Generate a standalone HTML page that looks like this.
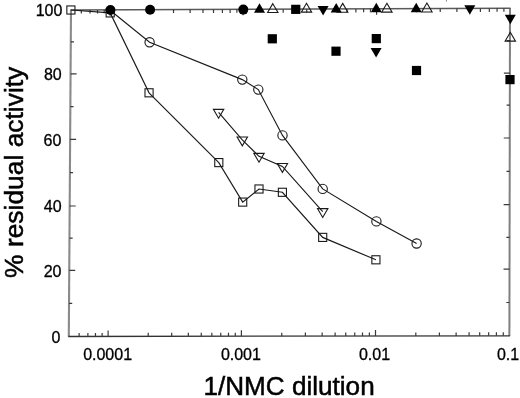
<!DOCTYPE html>
<html><head><meta charset="utf-8"><style>
html,body{margin:0;padding:0;background:#fff;}
body{width:520px;height:398px;overflow:hidden;font-family:"Liberation Sans",sans-serif;}
svg{display:block;will-change:transform;}
</style></head><body>
<svg width="520" height="398" viewBox="0 0 520 398">
<rect width="520" height="398" fill="#fff"/>
<path d="M71.0,9.7 L68.8,336.8" fill="none" stroke="#8a8a8a" stroke-width="2.1"/>
<path d="M510.0,8.0 L509.4,336.1" fill="none" stroke="#808080" stroke-width="2.0"/>
<path d="M70.5,10.0 L510.5,8.3" fill="none" stroke="#5a5a5a" stroke-width="1.6"/>
<path d="M68.3,336.5 L509.9,335.8" fill="none" stroke="#333" stroke-width="1.3"/>
<path d="M79.14,336.48v-3.5 M81.30,9.96v3.5 M87.88,336.47v-3.5 M90.01,9.92v3.5 M95.45,336.46v-3.5 M97.55,9.89v3.5 M102.13,336.45v-3.5 M104.20,9.87v3.5 M108.10,336.44v-6.0 M110.15,9.84v6.0 M148.23,336.37v-3.5 M150.14,9.69v3.5 M171.70,336.33v-3.5 M173.52,9.60v3.5 M188.35,336.31v-3.5 M190.12,9.53v3.5 M201.27,336.29v-3.5 M202.99,9.49v3.5 M211.83,336.27v-3.5 M213.50,9.44v3.5 M220.75,336.26v-3.5 M222.40,9.41v3.5 M228.48,336.24v-3.5 M230.10,9.38v3.5 M235.30,336.23v-3.5 M236.89,9.35v3.5 M241.40,336.22v-6.0 M242.97,9.33v6.0 M281.77,336.16v-3.5 M283.19,9.17v3.5 M305.38,336.12v-3.5 M306.72,9.08v3.5 M322.14,336.10v-3.5 M323.41,9.02v3.5 M335.13,336.08v-3.5 M336.36,8.97v3.5 M345.75,336.06v-3.5 M346.94,8.93v3.5 M354.73,336.04v-3.5 M355.89,8.89v3.5 M362.50,336.03v-3.5 M363.64,8.86v3.5 M369.36,336.02v-3.5 M370.47,8.84v3.5 M375.50,336.01v-6.0 M376.58,8.81v6.0 M415.81,335.95v-3.5 M416.75,8.66v3.5 M439.39,335.91v-3.5 M440.24,8.57v3.5 M456.12,335.88v-3.5 M456.91,8.50v3.5 M469.09,335.86v-3.5 M469.84,8.46v3.5 M479.69,335.85v-3.5 M480.40,8.41v3.5 M488.66,335.83v-3.5 M489.33,8.38v3.5 M496.42,335.82v-3.5 M497.07,8.35v3.5 M503.27,335.81v-3.5 M503.90,8.32v3.5 M69.02,303.35h3.2 M509.46,302.50h-3.2 M69.24,270.40h6.0 M509.52,269.20h-6.0 M69.46,238.20h3.2 M509.58,237.40h-3.2 M69.68,206.00h6.0 M509.64,204.60h-6.0 M69.90,172.65h3.2 M509.70,171.30h-3.2 M70.13,139.30h6.0 M509.76,138.00h-6.0 M70.35,106.60h3.2 M509.82,105.20h-3.2 M70.57,73.90h6.0 M509.88,73.10h-6.0 M70.78,41.95h3.2 M509.94,40.70h-3.2" fill="none" stroke="#3a3a3a" stroke-width="1.2"/>
<path d="M70.90,10.00 L110.20,12.90 L149.05,92.80 L218.80,162.60 L242.70,202.10 L259.00,189.00 L282.40,192.30 L322.70,237.40 L375.90,259.80" fill="none" stroke="#1a1a1a" stroke-width="1.15"/>
<path d="M110.40,10.50 L149.60,42.30 L242.30,79.60 L258.30,89.60 L282.50,135.40 L322.70,188.90 L376.40,221.40 L416.60,243.50" fill="none" stroke="#1a1a1a" stroke-width="1.15"/>
<path d="M218.60,112.30 L242.30,139.90 L259.00,156.30 L282.40,166.40 L322.70,211.60" fill="none" stroke="#1a1a1a" stroke-width="1.15"/>
<rect x="66.85" y="5.95" width="8.10" height="8.10" fill="none" stroke="#1a1a1a" stroke-width="1.1"/>
<rect x="106.15" y="8.85" width="8.10" height="8.10" fill="none" stroke="#1a1a1a" stroke-width="1.1"/>
<rect x="145.00" y="88.75" width="8.10" height="8.10" fill="none" stroke="#1a1a1a" stroke-width="1.1"/>
<rect x="214.75" y="158.55" width="8.10" height="8.10" fill="none" stroke="#1a1a1a" stroke-width="1.1"/>
<rect x="238.65" y="198.05" width="8.10" height="8.10" fill="none" stroke="#1a1a1a" stroke-width="1.1"/>
<rect x="254.95" y="184.95" width="8.10" height="8.10" fill="none" stroke="#1a1a1a" stroke-width="1.1"/>
<rect x="278.35" y="188.25" width="8.10" height="8.10" fill="none" stroke="#1a1a1a" stroke-width="1.1"/>
<rect x="318.65" y="233.35" width="8.10" height="8.10" fill="none" stroke="#1a1a1a" stroke-width="1.1"/>
<rect x="371.85" y="255.75" width="8.10" height="8.10" fill="none" stroke="#1a1a1a" stroke-width="1.1"/>
<circle cx="149.6" cy="42.3" r="4.65" fill="none" stroke="#1a1a1a" stroke-width="1.1"/>
<circle cx="242.3" cy="79.6" r="4.65" fill="none" stroke="#1a1a1a" stroke-width="1.1"/>
<circle cx="258.3" cy="89.6" r="4.65" fill="none" stroke="#1a1a1a" stroke-width="1.1"/>
<circle cx="282.5" cy="135.4" r="4.65" fill="none" stroke="#1a1a1a" stroke-width="1.1"/>
<circle cx="322.7" cy="188.9" r="4.65" fill="none" stroke="#1a1a1a" stroke-width="1.1"/>
<circle cx="376.4" cy="221.4" r="4.65" fill="none" stroke="#1a1a1a" stroke-width="1.1"/>
<circle cx="416.6" cy="243.5" r="4.65" fill="none" stroke="#1a1a1a" stroke-width="1.1"/>
<path d="M213.40,109.33 L223.80,109.33 L218.60,118.23 Z" fill="none" stroke="#1a1a1a" stroke-width="1.1" stroke-linejoin="miter"/>
<path d="M237.10,136.93 L247.50,136.93 L242.30,145.83 Z" fill="none" stroke="#1a1a1a" stroke-width="1.1" stroke-linejoin="miter"/>
<path d="M253.80,153.33 L264.20,153.33 L259.00,162.23 Z" fill="none" stroke="#1a1a1a" stroke-width="1.1" stroke-linejoin="miter"/>
<path d="M277.20,163.43 L287.60,163.43 L282.40,172.33 Z" fill="none" stroke="#1a1a1a" stroke-width="1.1" stroke-linejoin="miter"/>
<path d="M317.50,208.63 L327.90,208.63 L322.70,217.53 Z" fill="none" stroke="#1a1a1a" stroke-width="1.1" stroke-linejoin="miter"/>
<path d="M272.80,3.67 L278.00,12.57 L267.60,12.57 Z" fill="white" fill-opacity="0" stroke="#1a1a1a" stroke-width="1.1"/>
<path d="M306.50,3.27 L311.70,12.17 L301.30,12.17 Z" fill="white" fill-opacity="0" stroke="#1a1a1a" stroke-width="1.1"/>
<path d="M342.70,3.37 L347.90,12.27 L337.50,12.27 Z" fill="white" fill-opacity="0" stroke="#1a1a1a" stroke-width="1.1"/>
<path d="M386.90,3.27 L392.10,12.17 L381.70,12.17 Z" fill="white" fill-opacity="0" stroke="#1a1a1a" stroke-width="1.1"/>
<path d="M426.90,3.07 L432.10,11.97 L421.70,11.97 Z" fill="white" fill-opacity="0" stroke="#1a1a1a" stroke-width="1.1"/>
<path d="M510.30,32.27 L515.50,41.17 L505.10,41.17 Z" fill="white" fill-opacity="0" stroke="#1a1a1a" stroke-width="1.1"/>
<circle cx="110.45" cy="10.0" r="5.0" fill="#000"/>
<circle cx="150.1" cy="9.8" r="5.0" fill="#000"/>
<circle cx="243.3" cy="9.6" r="5.0" fill="#000"/>
<rect x="291.15" y="4.75" width="9.2" height="9.2" fill="#000"/>
<rect x="267.70" y="34.20" width="9.2" height="9.2" fill="#000"/>
<rect x="331.40" y="46.60" width="9.2" height="9.2" fill="#000"/>
<rect x="371.70" y="34.00" width="9.2" height="9.2" fill="#000"/>
<rect x="411.90" y="65.90" width="9.2" height="9.2" fill="#000"/>
<rect x="505.40" y="75.00" width="9.2" height="9.2" fill="#000"/>
<path d="M259.50,3.27 L265.00,12.77 L254.00,12.77 Z" fill="#000"/>
<path d="M336.20,2.97 L341.70,12.47 L330.70,12.47 Z" fill="#000"/>
<path d="M376.30,2.77 L381.80,12.27 L370.80,12.27 Z" fill="#000"/>
<path d="M416.20,2.67 L421.70,12.17 L410.70,12.17 Z" fill="#000"/>
<path d="M317.60,6.03 L328.60,6.03 L323.10,15.53 Z" fill="#000"/>
<path d="M370.60,48.03 L381.60,48.03 L376.10,57.53 Z" fill="#000"/>
<path d="M464.30,5.33 L475.30,5.33 L469.80,14.83 Z" fill="#000"/>
<path d="M504.80,14.73 L515.80,14.73 L510.30,24.23 Z" fill="#000"/>
<text x="62.4" y="16.40" font-family="Liberation Sans, sans-serif" font-size="16" text-anchor="end" fill="#000" stroke="#000" stroke-width="0.3">100</text>
<text x="61.7" y="80.00" font-family="Liberation Sans, sans-serif" font-size="16" text-anchor="end" fill="#000" stroke="#000" stroke-width="0.3">80</text>
<text x="61.3" y="145.80" font-family="Liberation Sans, sans-serif" font-size="16" text-anchor="end" fill="#000" stroke="#000" stroke-width="0.3">60</text>
<text x="61.6" y="212.40" font-family="Liberation Sans, sans-serif" font-size="16" text-anchor="end" fill="#000" stroke="#000" stroke-width="0.3">40</text>
<text x="61.5" y="276.50" font-family="Liberation Sans, sans-serif" font-size="16" text-anchor="end" fill="#000" stroke="#000" stroke-width="0.3">20</text>
<text x="60.3" y="342.90" font-family="Liberation Sans, sans-serif" font-size="16" text-anchor="end" fill="#000" stroke="#000" stroke-width="0.3">0</text>
<text x="107.60" y="360.3" font-family="Liberation Sans, sans-serif" font-size="16" text-anchor="middle" fill="#000" stroke="#000" stroke-width="0.3">0.0001</text>
<text x="240.90" y="360.3" font-family="Liberation Sans, sans-serif" font-size="16" text-anchor="middle" fill="#000" stroke="#000" stroke-width="0.3">0.001</text>
<text x="374.50" y="360.3" font-family="Liberation Sans, sans-serif" font-size="16" text-anchor="middle" fill="#000" stroke="#000" stroke-width="0.3">0.01</text>
<text x="508.10" y="360.3" font-family="Liberation Sans, sans-serif" font-size="16" text-anchor="middle" fill="#000" stroke="#000" stroke-width="0.3">0.1</text>
<text x="289.1" y="395.4" font-family="Liberation Sans, sans-serif" font-size="26.1" text-anchor="middle" fill="#000" stroke="#000" stroke-width="0.5">1/NMC dilution</text>
<text transform="translate(22.5,172.3) rotate(-90)" x="0" y="0" font-family="Liberation Sans, sans-serif" font-size="26.4" text-anchor="middle" fill="#000" stroke="#000" stroke-width="0.5">% residual activity</text>
<path d="M446.4,0 v1.6" stroke="#888" stroke-width="1"/>
</svg>
</body></html>
